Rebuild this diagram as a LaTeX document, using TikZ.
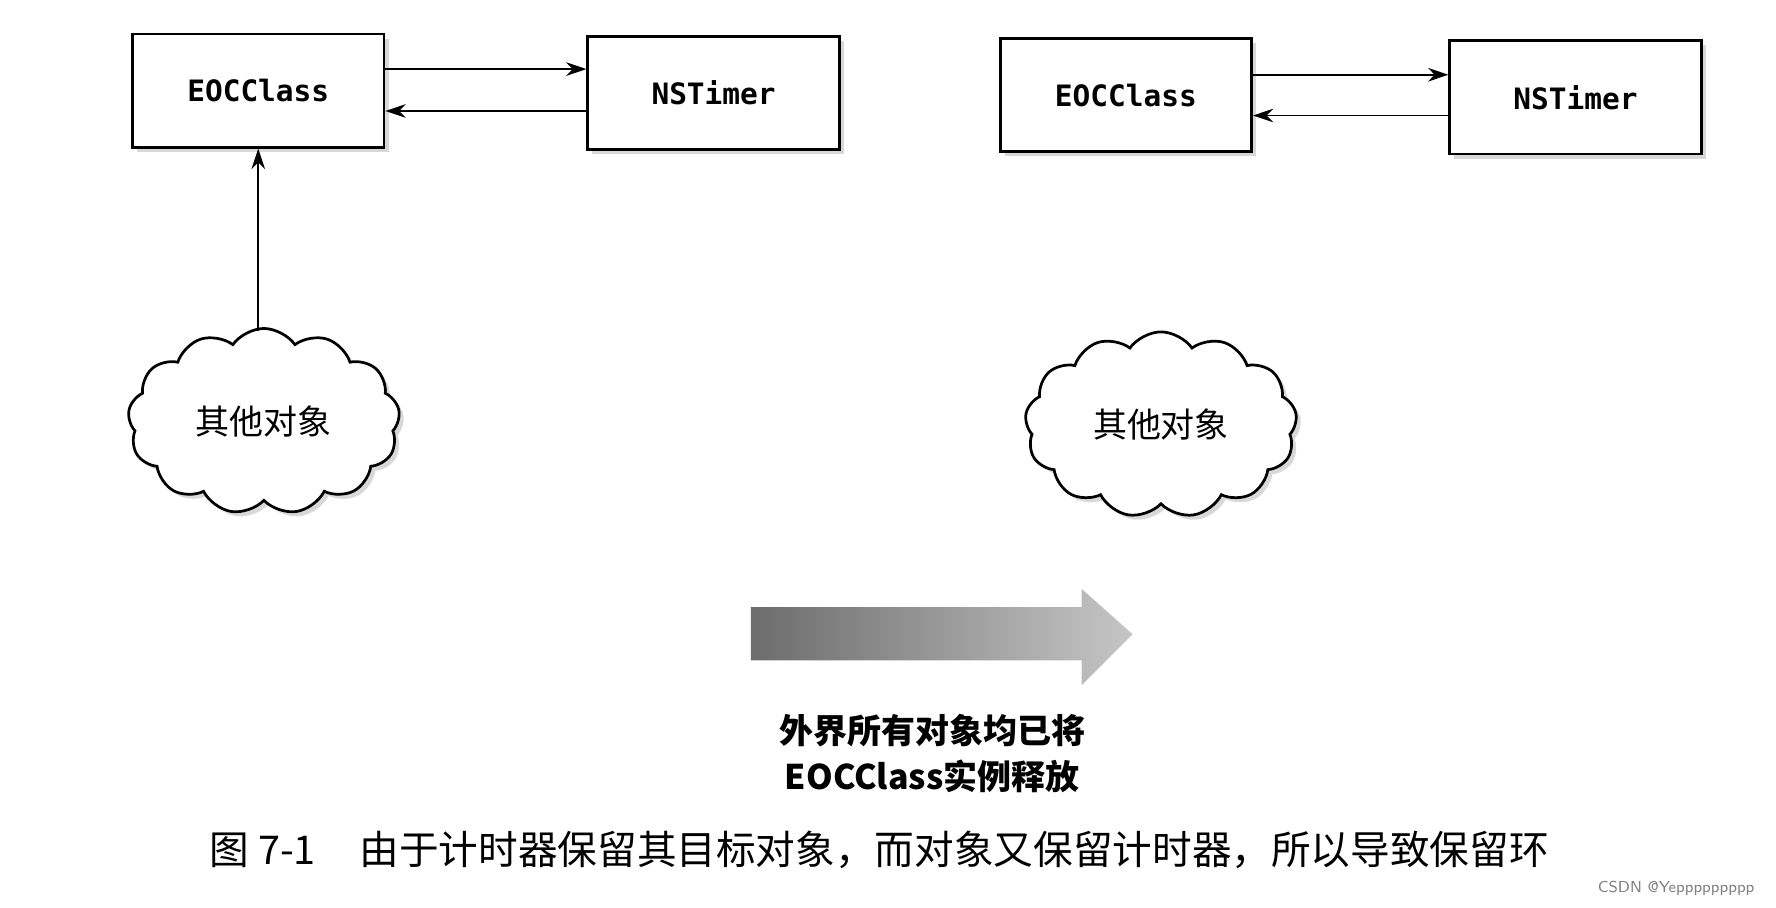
\documentclass[tikz,border=0pt]{standalone}
\usepackage{fontspec}
\setmainfont{Liberation Serif}
\newfontfamily\cjk{Noto Sans CJK SC}
\newfontfamily\mono{DejaVu Sans Mono}
\usetikzlibrary{shapes.symbols,arrows.meta,shadows}
\begin{document}
\begin{tikzpicture}[x=0.5pt,y=-0.5pt,
  bx/.style={draw,line width=1.2pt,fill=white,minimum width=111pt,minimum height=50pt,font=\mono\bfseries\fontsize{13}{15}\selectfont,drop shadow={shadow xshift=2pt,shadow yshift=-2pt,fill=gray!60}},
  cl/.style={cloud,cloud puffs=13,cloud puff arc=110,aspect=1.5,draw,fill=white,line width=1.2pt,minimum width=120pt,minimum height=82pt,font=\cjk\fontsize{15}{18}\selectfont,drop shadow={shadow xshift=2pt,shadow yshift=-2pt,fill=gray!60}},
  ar/.style={-{Stealth[length=9pt,width=6pt]},line width=0.8pt}]
\useasboundingbox (0,0) rectangle (1568,801);
\node[bx] (a) at (228,80) {EOCClass};
\node[bx] (b) at (630,82) {NSTimer};
\node[bx] (c) at (994,84) {EOCClass};
\node[bx] (d) at (1391,86) {NSTimer};
\draw[ar] (a.east|-0,61) -- (b.west|-0,61);
\draw[ar] (b.west|-0,98) -- (a.east|-0,98);
\draw[ar] (c.east|-0,66) -- (d.west|-0,66);
\draw[ar] (d.west|-0,102) -- (c.east|-0,102);
\node[cl] (o1) at (233,372) {其他对象};
\node[cl] (o2) at (1025,375) {其他对象};
\draw[ar] (228,292) coordinate (s) -- (s|-a.south);
\shade[left color=gray!85!black,right color=gray!45] (663,536) -- (955,536) -- (955,520) -- (1000,560) -- (955,605) -- (955,583) -- (663,583) -- cycle;
\node[font=\cjk\bfseries\fontsize{15}{18}\selectfont] (t1) at (823,645) {外界所有对象均已将};
\node[font=\cjk\bfseries\fontsize{15}{18}\selectfont] (t2) at (823,685) {EOCClass实例释放};
\node[font=\cjk\fontsize{17.5}{20}\selectfont,anchor=west] (cap) at (178,750) {图 7-1\hspace{1.1em}由于计时器保留其目标对象，而对象又保留计时器，所以导致保留环};
\node[font=\sffamily\fontsize{7}{8}\selectfont,text=gray,anchor=east] (wm) at (1556,784) {CSDN @Yeppppppppp};
\end{tikzpicture}
\end{document}
